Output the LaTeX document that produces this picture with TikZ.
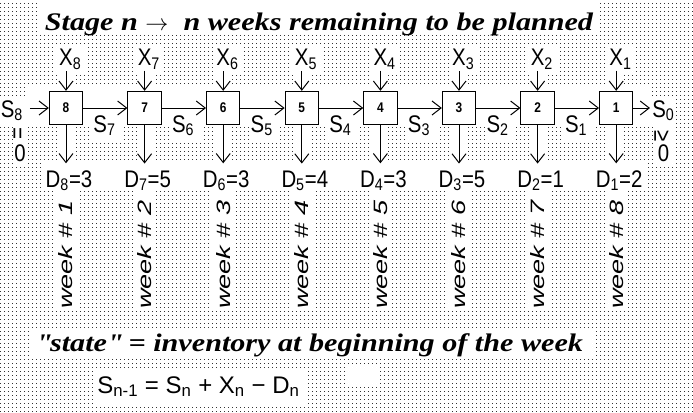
\documentclass[tikz,border=0pt]{standalone}
\usepackage{fontspec}
\setmainfont{Liberation Serif}
\newfontfamily\headfont[FakeStretch=1.19]{Liberation Serif}
\newfontfamily\lblfont[FakeStretch=0.85]{Liberation Sans}
\newfontfamily\rulefont{Liberation Sans}
\newfontfamily\wkfont[FakeStretch=1.4]{Liberation Sans}
\usepackage{tikz}
\usetikzlibrary{arrows.meta, positioning, patterns}
\pgfdeclarepatternformonly{pxdots}{\pgfqpoint{0pt}{0pt}}{\pgfqpoint{3pt}{3pt}}{\pgfqpoint{3pt}{3pt}}{%
  \pgfpathrectangle{\pgfqpoint{1pt}{1pt}}{\pgfqpoint{0.8pt}{0.8pt}}\pgfusepath{fill}}
\tikzset{
  dp-stage/.style={
    rectangle, draw, line width=0.75pt, fill=white, minimum size=25pt,
    inner sep=0pt, font=\lblfont\bfseries\fontsize{10.5}{12}\selectfont
  },
  dp-lbl/.style={inner sep=1pt, font=\lblfont\fontsize{18}{20}\selectfont},
  dp-week/.style={
    rotate=90, anchor=west, inner sep=0pt,
    font=\wkfont\itshape\fontsize{14.5}{16}\selectfont
  },
  dp-head/.style={anchor=base, inner sep=0pt,
    font=\headfont\bfseries\itshape\fontsize{19}{22}\selectfont},
  dp-flow/.style={-{Straight Barb[length=6.75pt,width=10.5pt]}, line width=0.75pt},
  dp-mask/.style={fill=white},
}

\begin{document}
\begin{tikzpicture}[x=0.75pt, y=-0.75pt]
  % dotted sheet, with the blank patches that lie under the texts
  \fill[pattern=pxdots, pattern color=black!80] (0,0) rectangle (693,412);
  \useasboundingbox (0,0) rectangle (693,412);
  \fill[dp-mask] (38,0) rectangle (597,32);
  \fill[dp-mask] (26,86) rectangle (650,126);
  \fill[dp-mask] (41,163) rectangle (647,190);
  \fill[dp-mask] (0,98) rectangle (28,126);
  \fill[dp-mask] (13,126) rectangle (27,165);
  \fill[dp-mask] (650,98) rectangle (676,126);
  \fill[dp-mask] (653,126) rectangle (673,165);
  \fill[dp-mask] (32,329) rectangle (596,357);
  \fill[dp-mask] (93,370) rectangle (305,405);
  \fill[dp-mask] (345,366) rectangle (378,387);
  \foreach \k in {0,...,7} {
    \pgfmathsetmacro\c{66+78.6*\k}
    \fill[dp-mask] (\c-10,46) rectangle (\c+19,72);
    \fill[dp-mask] (\c-8,72) rectangle (\c+8,86);
    \fill[dp-mask] (\c-8,126) rectangle (\c+8,163);
    \fill[dp-mask] (\c-11,188) rectangle (\c+11,310);
    \ifnum\k>0 \fill[dp-mask] (\c-53,125) rectangle (\c-22,140); \fi
  }

  \node[dp-head] (head) at (319,30)
    {Stage n $\rightarrow$\ \ n weeks remaining to be planned};

  % the eight stages
  \coordinate (rowX) at (0,65.5);
  \coordinate (rowD) at (0,187);
  \coordinate (rowW) at (0,309);
  \node[dp-stage] (b8) at (66,108) {8};
  \foreach \n [remember=\n as \p (initially 8)] in {7,...,1}
    \node[dp-stage, right=33.2pt of b\p] (b\n) {\n};

  \foreach \n/\d/\w in {8/3/1, 7/5/2, 6/3/3, 5/4/4, 4/3/5, 3/5/6, 2/1/7, 1/2/8} {
    \node[dp-lbl, anchor=base] (x\n) at (b\n |- rowX) {X\rlap{\textsubscript{\n}}};
    \node[dp-lbl, anchor=base, inner ysep=5pt, xshift=2.25pt] (d\n) at (b\n |- rowD)
      {D\textsubscript{\n}=\d};
    \node[dp-week] (w\n) at (b\n |- rowW) {week \# \w};
    \draw[dp-flow] (x\n) -- (b\n);
    \draw[dp-flow] (b\n) -- (b\n |- d\n.north);
  }

  \foreach \n [remember=\n as \p (initially 8)] in {7,...,1}
    \draw[dp-flow] (b\p) -- node[dp-lbl, anchor=base, xshift=-3.75pt, yshift=-18pt]
      (s\n) {S\rlap{\textsubscript{\n}}} (b\n);

  % boundary states
  \node[dp-lbl, anchor=base west, inner xsep=0pt] (s8) at (0.5,117) {S\textsubscript{8}};
  \node[dp-lbl, rotate=90] (s8eq) at (19.5,134) {=};
  \node[dp-lbl] (s8val) at (20,153) {0};
  \draw[dp-flow] ([xshift=5pt]s8.east |- b8) -- (b8.west);
  \node[dp-lbl, anchor=base west, inner xsep=1.5pt] (s0) at (650,117) {S\textsubscript{0}};
  \node[dp-lbl, rotate=-90] (s0ge) at (661.5,136.5) {≥};
  \node[dp-lbl] (s0val) at (663.5,153) {0};
  \draw[dp-flow] (b1.east) -- (b1.east -| s0.west);

  \node[dp-head] (state) at (309.5,351)
    {\textquotedbl state\textquotedbl{} = inventory at beginning of the week};
  \node[dp-lbl, font=\rulefont\fontsize{18}{20}\selectfont, anchor=base] (rule) at (198.5,393)
    {S\textsubscript{n-1} = S\textsubscript{n} + X\textsubscript{n} − D\textsubscript{n}};
\end{tikzpicture}
\end{document}
